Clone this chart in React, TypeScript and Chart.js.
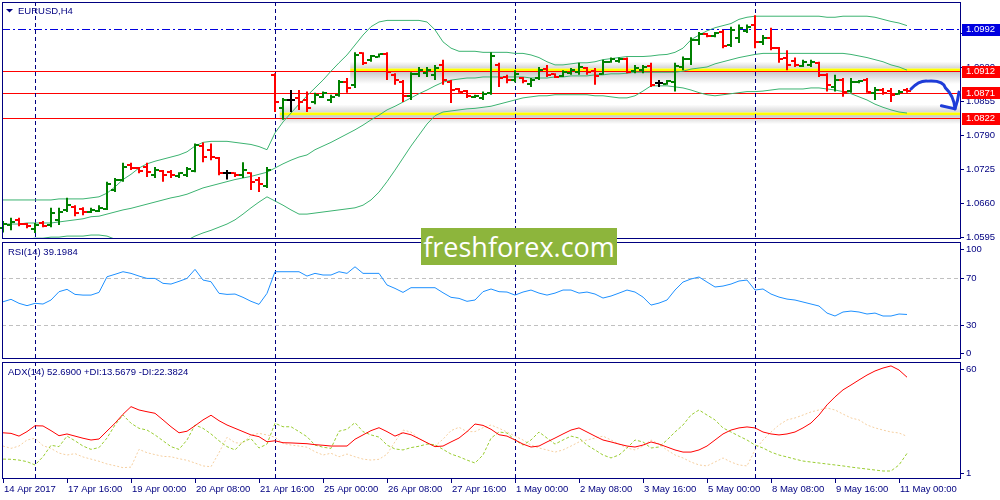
import React, { useEffect, useRef } from "react";
import { Chart, registerables } from "chart.js";

Chart.register(...registerables);

// ---------------- data (EURUSD H4) ----------------
const OPEN = [
  1.0612, 1.0618, 1.0628, 1.0620, 1.0610, 1.0622, 1.0618, 1.0628, 1.0647, 1.0652,
  1.0649, 1.0643, 1.0645, 1.0649, 1.0685, 1.0705, 1.0733, 1.0727, 1.0729, 1.0713,
  1.0721, 1.0719, 1.0711, 1.0713, 1.0721, 1.0769, 1.0762, 1.0746, 1.0717, 1.0717,
  1.0713, 1.0717, 1.0705, 1.0693, 1.0905, 1.0841, 1.0857, 1.0861, 1.0857, 1.0853,
  1.0863, 1.0857, 1.0867, 1.0891, 1.0886, 1.0946, 1.0934, 1.0940, 1.0944, 1.0905,
  1.0891, 1.0865, 1.0907, 1.0908, 1.0905, 1.0924, 1.0891, 1.0878, 1.0874, 1.0863,
  1.0861, 1.0871, 1.0924, 1.0901, 1.0895, 1.0899, 1.0887, 1.0899, 1.0916, 1.0907,
  1.0903, 1.0908, 1.0910, 1.0918, 1.0912, 1.0907, 1.0930, 1.0932, 1.0936, 1.0912,
  1.0914, 1.0922, 1.0889, 1.0887, 1.0891, 1.0920, 1.0936, 1.0972, 1.0983, 1.0979,
  1.0987, 1.0962, 1.0975, 1.0989, 1.1001, 1.0968, 1.0975, 1.0956, 1.0938, 1.0932,
  1.0922, 1.0924, 1.0928, 1.0905, 1.0882, 1.0895, 1.0874, 1.0891, 1.0895, 1.0871,
  1.0876, 1.0874, 1.0869, 1.0876,
];
const HIGH = [
  1.0626, 1.0632, 1.0632, 1.0622, 1.0622, 1.0626, 1.0651, 1.0651, 1.0670, 1.0656,
  1.0652, 1.0651, 1.0656, 1.0701, 1.0708, 1.0737, 1.0737, 1.0729, 1.0737, 1.0729,
  1.0723, 1.0723, 1.0719, 1.0729, 1.0774, 1.0776, 1.0774, 1.0748, 1.0723, 1.0719,
  1.0738, 1.0719, 1.0710, 1.0729, 1.0908, 1.0861, 1.0876, 1.0876, 1.0873, 1.0871,
  1.0873, 1.0867, 1.0895, 1.0899, 1.0948, 1.0948, 1.0943, 1.0946, 1.0948, 1.0908,
  1.0895, 1.0910, 1.0920, 1.0920, 1.0924, 1.0934, 1.0895, 1.0880, 1.0876, 1.0867,
  1.0873, 1.0948, 1.0928, 1.0905, 1.0914, 1.0901, 1.0899, 1.0920, 1.0924, 1.0908,
  1.0914, 1.0918, 1.0928, 1.0920, 1.0918, 1.0934, 1.0938, 1.0938, 1.0938, 1.0924,
  1.0924, 1.0928, 1.0895, 1.0895, 1.0928, 1.0940, 1.0977, 1.0987, 1.0985, 1.0987,
  1.0991, 1.0997, 1.1001, 1.1001, 1.1019, 1.0981, 1.0995, 1.0958, 1.0952, 1.0938,
  1.0934, 1.0934, 1.0930, 1.0908, 1.0905, 1.0899, 1.0899, 1.0895, 1.0899, 1.0882,
  1.0880, 1.0880, 1.0876, 1.0880,
];
const LOW = [
  1.0604, 1.0608, 1.0616, 1.0612, 1.0603, 1.0614, 1.0614, 1.0618, 1.0643, 1.0635,
  1.0637, 1.0641, 1.0643, 1.0647, 1.0681, 1.0701, 1.0723, 1.0717, 1.0710, 1.0708,
  1.0701, 1.0708, 1.0708, 1.0710, 1.0719, 1.0738, 1.0742, 1.0713, 1.0705, 1.0710,
  1.0708, 1.0685, 1.0681, 1.0689, 1.0834, 1.0819, 1.0834, 1.0838, 1.0834, 1.0849,
  1.0861, 1.0851, 1.0863, 1.0871, 1.0880, 1.0924, 1.0930, 1.0938, 1.0895, 1.0886,
  1.0853, 1.0857, 1.0901, 1.0901, 1.0895, 1.0886, 1.0851, 1.0871, 1.0861, 1.0861,
  1.0857, 1.0867, 1.0882, 1.0889, 1.0891, 1.0889, 1.0882, 1.0895, 1.0901, 1.0899,
  1.0901, 1.0905, 1.0905, 1.0905, 1.0886, 1.0905, 1.0928, 1.0928, 1.0908, 1.0908,
  1.0908, 1.0882, 1.0882, 1.0886, 1.0873, 1.0914, 1.0924, 1.0962, 1.0977, 1.0977,
  1.0956, 1.0958, 1.0966, 1.0985, 1.0956, 1.0962, 1.0952, 1.0928, 1.0914, 1.0920,
  1.0920, 1.0920, 1.0901, 1.0873, 1.0873, 1.0863, 1.0871, 1.0889, 1.0871, 1.0857,
  1.0867, 1.0853, 1.0867, 1.0871,
];
const CLOSE = [
  1.0620, 1.0624, 1.0620, 1.0616, 1.0618, 1.0616, 1.0641, 1.0643, 1.0656, 1.0641,
  1.0643, 1.0647, 1.0651, 1.0697, 1.0705, 1.0729, 1.0727, 1.0721, 1.0719, 1.0723,
  1.0713, 1.0713, 1.0717, 1.0725, 1.0771, 1.0748, 1.0748, 1.0717, 1.0717, 1.0713,
  1.0723, 1.0701, 1.0697, 1.0723, 1.0853, 1.0857, 1.0857, 1.0853, 1.0841, 1.0867,
  1.0871, 1.0863, 1.0891, 1.0880, 1.0943, 1.0928, 1.0941, 1.0944, 1.0910, 1.0895,
  1.0865, 1.0907, 1.0914, 1.0914, 1.0918, 1.0895, 1.0876, 1.0873, 1.0865, 1.0865,
  1.0869, 1.0941, 1.0899, 1.0895, 1.0907, 1.0893, 1.0895, 1.0914, 1.0905, 1.0901,
  1.0910, 1.0914, 1.0920, 1.0910, 1.0903, 1.0930, 1.0936, 1.0936, 1.0910, 1.0918,
  1.0920, 1.0886, 1.0889, 1.0893, 1.0922, 1.0936, 1.0972, 1.0983, 1.0979, 1.0985,
  1.0960, 1.0991, 1.0995, 1.0997, 1.0968, 1.0975, 1.0956, 1.0936, 1.0924, 1.0924,
  1.0930, 1.0930, 1.0905, 1.0886, 1.0895, 1.0873, 1.0891, 1.0893, 1.0873, 1.0876,
  1.0871, 1.0867, 1.0873, 1.0874,
];
const BB_UPPER = [
  1.0666, 1.0666, 1.0666, 1.0666, 1.0666, 1.0666, 1.0666, 1.0668, 1.0668, 1.0668,
  1.0668, 1.0670, 1.0672, 1.0679, 1.0691, 1.0705, 1.0715, 1.0727, 1.0735, 1.0740,
  1.0744, 1.0748, 1.0752, 1.0758, 1.0769, 1.0776, 1.0778, 1.0778, 1.0778, 1.0776,
  1.0774, 1.0772, 1.0768, 1.0762, 1.0794, 1.0815, 1.0832, 1.0849, 1.0865, 1.0880,
  1.0895, 1.0912, 1.0928, 1.0943, 1.0962, 1.0981, 1.0997, 1.1006, 1.1009, 1.1009,
  1.1009, 1.1009, 1.1009, 1.1006, 1.0991, 1.0968, 1.0956, 1.0950, 1.0950, 1.0950,
  1.0948, 1.0948, 1.0948, 1.0948, 1.0946, 1.0946, 1.0943, 1.0938, 1.0930, 1.0924,
  1.0924, 1.0926, 1.0928, 1.0928, 1.0930, 1.0934, 1.0936, 1.0938, 1.0940, 1.0940,
  1.0940, 1.0941, 1.0943, 1.0944, 1.0948, 1.0956, 1.0972, 1.0981, 1.0989, 1.0995,
  1.0999, 1.1003, 1.1011, 1.1015, 1.1017, 1.1017, 1.1017, 1.1017, 1.1017, 1.1017,
  1.1017, 1.1017, 1.1017, 1.1015, 1.1015, 1.1017, 1.1017, 1.1017, 1.1017, 1.1015,
  1.1011, 1.1007, 1.1004, 1.0999,
];
const BB_MIDDLE = [
  1.0620, 1.0620, 1.0620, 1.0622, 1.0622, 1.0622, 1.0622, 1.0624, 1.0626, 1.0628,
  1.0630, 1.0634, 1.0635, 1.0639, 1.0643, 1.0647, 1.0650, 1.0654, 1.0658, 1.0662,
  1.0666, 1.0670, 1.0673, 1.0677, 1.0683, 1.0689, 1.0693, 1.0697, 1.0701, 1.0705,
  1.0708, 1.0711, 1.0715, 1.0719, 1.0727, 1.0735, 1.0742, 1.0748, 1.0752, 1.0762,
  1.0769, 1.0776, 1.0784, 1.0792, 1.0800, 1.0809, 1.0819, 1.0828, 1.0838, 1.0845,
  1.0853, 1.0861, 1.0869, 1.0876, 1.0884, 1.0891, 1.0895, 1.0897, 1.0899, 1.0899,
  1.0901, 1.0901, 1.0901, 1.0901, 1.0901, 1.0901, 1.0899, 1.0899, 1.0899, 1.0901,
  1.0901, 1.0903, 1.0903, 1.0903, 1.0905, 1.0905, 1.0907, 1.0907, 1.0908, 1.0910,
  1.0910, 1.0910, 1.0910, 1.0910, 1.0910, 1.0912, 1.0916, 1.0918, 1.0920, 1.0926,
  1.0930, 1.0934, 1.0938, 1.0941, 1.0944, 1.0946, 1.0946, 1.0946, 1.0946, 1.0946,
  1.0946, 1.0946, 1.0946, 1.0946, 1.0946, 1.0946, 1.0944, 1.0941, 1.0938, 1.0934,
  1.0930, 1.0924, 1.0920, 1.0914,
];
const BB_LOWER = [
  1.0588, 1.0589, 1.0589, 1.0591, 1.0593, 1.0593, 1.0595, 1.0595, 1.0597, 1.0597,
  1.0597, 1.0599, 1.0599, 1.0597, 1.0591, 1.0586, 1.0580, 1.0576, 1.0574, 1.0574,
  1.0574, 1.0576, 1.0584, 1.0589, 1.0597, 1.0603, 1.0608, 1.0614, 1.0620, 1.0628,
  1.0639, 1.0651, 1.0662, 1.0672, 1.0664, 1.0656, 1.0647, 1.0639, 1.0639, 1.0641,
  1.0643, 1.0645, 1.0647, 1.0649, 1.0651, 1.0656, 1.0666, 1.0681, 1.0701, 1.0723,
  1.0746, 1.0769, 1.0790, 1.0811, 1.0827, 1.0834, 1.0836, 1.0838, 1.0840, 1.0841,
  1.0843, 1.0845, 1.0849, 1.0853, 1.0857, 1.0861, 1.0863, 1.0865, 1.0865, 1.0867,
  1.0867, 1.0867, 1.0867, 1.0867, 1.0865, 1.0865, 1.0863, 1.0861, 1.0861, 1.0865,
  1.0874, 1.0884, 1.0884, 1.0884, 1.0882, 1.0880, 1.0876, 1.0871, 1.0867, 1.0865,
  1.0867, 1.0869, 1.0871, 1.0873, 1.0873, 1.0874, 1.0876, 1.0878, 1.0878, 1.0878,
  1.0878, 1.0880, 1.0880, 1.0878, 1.0876, 1.0873, 1.0869, 1.0863, 1.0857, 1.0849,
  1.0843, 1.0838, 1.0834, 1.0832,
];
const RSI = [
  50.0, 52.1, 48.7, 46.7, 48.7, 48.1, 51.5, 58.6, 60.6, 56.3,
  55.7, 55.7, 58.0, 71.3, 73.4, 75.6, 74.2, 71.9, 69.9, 69.9,
  65.7, 65.1, 67.4, 69.9, 77.6, 68.5, 67.1, 57.2, 56.3, 56.6,
  53.8, 50.4, 47.8, 57.2, 75.6, 75.6, 75.6, 75.6, 71.9, 74.2,
  72.8, 72.8, 75.6, 74.2, 79.8, 74.2, 74.2, 74.2, 64.3, 61.4,
  58.0, 62.0, 62.0, 62.0, 62.0, 57.7, 53.8, 52.9, 50.4, 51.5,
  58.6, 60.9, 58.6, 58.3, 55.7, 58.3, 60.0, 57.4, 55.7, 57.4,
  60.0, 60.0, 57.4, 58.3, 56.6, 53.2, 54.9, 57.4, 60.0, 58.3,
  54.0, 47.2, 48.9, 51.5, 60.0, 66.8, 69.4, 71.1, 66.8, 62.6,
  63.4, 65.1, 67.7, 68.5, 60.0, 60.9, 56.6, 54.0, 52.3, 51.5,
  49.8, 48.1, 46.4, 40.4, 37.9, 41.3, 42.1, 41.3, 39.6, 40.4,
  37.9, 37.9, 39.6, 39.2,
];
const ADX = [
  24.2, 23.9, 22.5, 24.8, 27.8, 27.7, 25.3, 22.7, 23.6, 22.5,
  21.4, 20.5, 21.0, 25.1, 29.1, 33.7, 37.6, 35.9, 35.0, 34.2,
  30.8, 27.3, 24.2, 25.0, 27.8, 30.8, 33.2, 30.4, 28.2, 26.5,
  24.8, 23.1, 22.2, 19.6, 20.1, 19.1, 19.0, 18.8, 18.6, 18.1,
  17.8, 17.4, 17.4, 17.4, 20.9, 23.1, 25.3, 26.8, 24.8, 22.5,
  24.2, 23.2, 21.2, 19.1, 17.1, 17.4, 19.5, 21.5, 24.8, 28.7,
  28.0, 26.0, 23.2, 22.5, 20.5, 18.4, 16.9, 17.4, 19.5, 21.5,
  23.6, 25.6, 26.7, 24.6, 22.5, 20.5, 19.5, 18.4, 17.4, 16.9,
  17.9, 19.5, 18.4, 16.9, 15.4, 14.3, 14.3, 15.4, 17.4, 20.5,
  23.6, 25.6, 26.7, 27.2, 26.7, 24.6, 23.6, 23.1, 23.6, 24.6,
  26.7, 29.2, 33.3, 38.5, 42.6, 46.2, 48.7, 51.3, 53.8, 55.9,
  57.4, 58.5, 56.4, 52.7,
];
const PLUS_DI = [
  10.7, 10.6, 10.2, 9.4, 7.7, 11.9, 17.8, 17.1, 22.5, 20.1,
  17.4, 15.7, 16.6, 21.5, 28.2, 33.3, 29.1, 26.5, 25.6, 23.1,
  20.1, 17.1, 15.7, 20.5, 28.2, 26.5, 23.6, 20.1, 17.1, 15.4,
  19.6, 21.2, 16.4, 18.4, 29.1, 27.3, 27.3, 24.8, 22.2, 17.9,
  16.8, 16.2, 25.0, 26.0, 29.4, 24.8, 23.1, 22.0, 17.9, 15.9,
  15.4, 16.6, 17.3, 18.4, 18.1, 15.7, 13.3, 11.9, 10.2, 8.7,
  12.8, 21.4, 24.6, 24.1, 20.5, 17.9, 20.5, 24.6, 21.5, 18.4,
  20.5, 22.5, 21.5, 17.9, 15.4, 12.8, 11.3, 12.8, 16.4, 20.5,
  19.5, 16.4, 16.9, 20.5, 24.6, 28.2, 33.3, 35.9, 33.3, 30.8,
  26.7, 24.6, 22.5, 20.5, 17.9, 16.4, 14.3, 12.8, 11.8, 10.7,
  9.7, 9.2, 8.7, 8.2, 7.7, 7.2, 6.6, 6.1, 5.6, 5.1,
  4.6, 4.6, 7.7, 13.6,
];
const MINUS_DI = [
  17.4, 16.2, 17.4, 20.5, 21.4, 17.6, 16.2, 13.8, 12.8, 13.5,
  11.8, 10.7, 9.6, 8.2, 7.3, 6.3, 6.6, 15.7, 14.0, 13.0,
  12.1, 11.9, 10.9, 10.1, 8.7, 7.2, 6.8, 14.0, 21.9, 19.1,
  18.8, 23.1, 23.9, 23.1, 21.9, 18.8, 17.9, 17.4, 16.8, 14.5,
  12.8, 13.7, 11.9, 13.3, 11.9, 10.7, 10.2, 10.6, 13.2, 19.6,
  25.6, 24.6, 21.2, 19.0, 17.4, 20.9, 25.3, 27.0, 24.8, 24.8,
  26.8, 28.2, 26.5, 24.6, 22.5, 20.5, 17.9, 16.4, 15.4, 14.3,
  15.4, 17.4, 19.5, 20.5, 21.5, 22.5, 20.5, 18.4, 16.4, 15.4,
  17.4, 20.5, 18.4, 15.4, 12.8, 11.3, 9.2, 7.7, 7.2, 9.2,
  11.3, 9.2, 7.7, 7.2, 15.4, 20.5, 24.6, 28.2, 30.8, 31.8,
  33.3, 34.9, 35.9, 36.9, 35.9, 33.8, 31.8, 30.8, 28.2, 26.7,
  25.6, 24.6, 24.1, 22.4,
];

const TIME_TICK_INDEX = [0, 8, 16, 24, 32, 40, 48, 56, 64, 72, 80, 88, 96, 104, 112];
const TIME_TICK_LABELS = [
  "14 Apr 2017", "17 Apr 16:00", "19 Apr 00:00", "20 Apr 08:00", "21 Apr 16:00",
  "25 Apr 00:00", "26 Apr 08:00", "27 Apr 16:00", "1 May 00:00", "2 May 08:00",
  "3 May 16:00", "5 May 00:00", "8 May 08:00", "9 May 16:00", "11 May 00:00",
];
const WEEK_SEPARATORS = [4, 34, 64, 94];
const PRICE_TICKS = [1.0595, 1.066, 1.0725, 1.079, 1.0855, 1.092, 1.0985];
const RSI_TICKS = [100, 70, 30, 0];
const RSI_LEVELS = [70, 30];
const ADX_TICKS = [60, 1];
const LEVEL_PRICES = [1.0992, 1.0912, 1.0871, 1.0822];
const LEVEL_COLORS = ["#0000E0", "#FF0000", "#FF0000", "#FF0000"];
const ZONE_START = [43.4, 34.6];
const ZONE_LOW = [1.0912, 1.0828];
const ZONE_HIGH = [1.0917, 1.0833];
const ARROW_INDEX = [113.5, 115.6, 117.8, 119.0];
const ARROW_PRICE = [1.0878, 1.0893, 1.0880, 1.0840];
const ARROW_HEAD_INDEX = [117.3, 119.0, 119.5];
const ARROW_HEAD_PRICE = [1.0846, 1.0840, 1.0872];

const TITLE = "EURUSD,H4";
const RSI_TITLE = "RSI(14) 39.1984";
const ADX_TITLE = "ADX(14) 52.6900 +DI:13.5679 -DI:22.3824";

// ---------------- styling ----------------
const NAVY = "#000080";
const FONT = '9.5px "Liberation Sans", Arial, sans-serif';
const X_MIN = -0.125;
const X_MAX = 119.625;
const GREEN = "#008000";

const idx = OPEN.map((_, i) => i);
const pts = (arr: number[]) => arr.map((v, i) => ({ x: idx[i], y: v }));

function barColor(i: number) {
  if (CLOSE[i] > OPEN[i]) return GREEN;
  if (CLOSE[i] < OPEN[i]) return "#FF0000";
  return "#000000";
}

function drawFrame(ctx: CanvasRenderingContext2D, a: any) {
  ctx.save();
  ctx.strokeStyle = NAVY;
  ctx.lineWidth = 1;
  ctx.setLineDash([]);
  ctx.strokeRect(a.left + 0.5, a.top + 0.5, a.right - a.left, a.bottom - a.top - 1);
  ctx.restore();
}

function drawSeparators(chart: any) {
  const { ctx, chartArea: a, scales } = chart;
  ctx.save();
  ctx.strokeStyle = NAVY;
  ctx.lineWidth = 1;
  ctx.setLineDash([4, 3]);
  for (const s of WEEK_SEPARATORS) {
    const px = Math.round(scales.x.getPixelForValue(s)) + 0.5;
    ctx.beginPath();
    ctx.moveTo(px, a.top);
    ctx.lineTo(px, a.bottom);
    ctx.stroke();
  }
  ctx.restore();
}

function drawRightLabels(chart: any, values: number[], fmt: (v: number) => string, clamp: boolean) {
  const { ctx, chartArea: a, scales } = chart;
  ctx.save();
  ctx.font = FONT;
  ctx.fillStyle = NAVY;
  ctx.textAlign = "left";
  ctx.textBaseline = "middle";
  for (const v of values) {
    let py = scales.y.getPixelForValue(v);
    if (clamp) py = Math.min(Math.max(py, a.top + 7), a.bottom - 6);
    ctx.fillRect(a.right + 1, Math.round(py), 3, 1);
    ctx.fillText(fmt(v), a.right + 6, py + 0.5);
  }
  ctx.restore();
}

function drawTitle(ctx: CanvasRenderingContext2D, text: string, x: number, y: number) {
  ctx.save();
  ctx.font = FONT;
  ctx.fillStyle = NAVY;
  ctx.textAlign = "left";
  ctx.textBaseline = "middle";
  ctx.fillText(text, x, y);
  ctx.restore();
}

const pricePlugin = {
  id: "pricePanel",
  beforeDatasetsDraw(chart: any) {
    const { ctx, chartArea: a, scales } = chart;
    const { x, y } = scales;
    ctx.save();
    // highlighted zones with soft shadow
    const shadowUp = [7, 8];
    const shadowDown = [13, 9];
    for (let k = 0; k < ZONE_START.length; k++) {
      const x0 = x.getPixelForValue(ZONE_START[k]);
      const w = a.right - x0;
      const yt = y.getPixelForValue(ZONE_HIGH[k]);
      const yb = y.getPixelForValue(ZONE_LOW[k]);
      let g = ctx.createLinearGradient(0, yt - shadowUp[k], 0, yt);
      g.addColorStop(0, "rgba(160,160,160,0)");
      g.addColorStop(1, "rgba(160,160,160,0.45)");
      ctx.fillStyle = g;
      ctx.fillRect(x0, yt - shadowUp[k], w, shadowUp[k]);
      g = ctx.createLinearGradient(0, yb, 0, yb + shadowDown[k]);
      g.addColorStop(0, "rgba(150,150,150,0.55)");
      g.addColorStop(1, "rgba(160,160,160,0)");
      ctx.fillStyle = g;
      ctx.fillRect(x0, yb, w, shadowDown[k]);
      ctx.fillStyle = "#FFFF00";
      ctx.fillRect(x0, yt, w, yb - yt);
    }
    // horizontal levels
    for (let k = 0; k < LEVEL_PRICES.length; k++) {
      const py = Math.round(y.getPixelForValue(LEVEL_PRICES[k])) + 0.5;
      ctx.strokeStyle = LEVEL_COLORS[k];
      ctx.lineWidth = 1;
      ctx.setLineDash(k === 0 ? [8, 3, 2, 3] : []);
      ctx.beginPath();
      ctx.moveTo(a.left, py);
      ctx.lineTo(a.right, py);
      ctx.stroke();
    }
    ctx.restore();
    drawSeparators(chart);
  },
  afterDatasetsDraw(chart: any) {
    const { ctx, scales } = chart;
    const meta = chart.getDatasetMeta(0);
    ctx.save();
    meta.data.forEach((el: any, i: number) => {
      const cx = Math.round(el.x);
      const yo = Math.round(scales.y.getPixelForValue(OPEN[i]));
      const yc = Math.round(scales.y.getPixelForValue(CLOSE[i]));
      ctx.fillStyle = barColor(i);
      ctx.fillRect(cx - 4, yo - 1, 3, 2);
      ctx.fillRect(cx + 1, yc - 1, 3, 2);
    });
    ctx.restore();
  },
  afterDraw(chart: any) {
    const { ctx, chartArea: a, scales } = chart;
    const { x, y } = scales;
    drawFrame(ctx, a);
    drawRightLabels(chart, PRICE_TICKS, (v) => v.toFixed(4), false);
    // level price boxes
    ctx.save();
    ctx.font = FONT;
    ctx.textAlign = "left";
    ctx.textBaseline = "middle";
    for (let k = 0; k < LEVEL_PRICES.length; k++) {
      const py = y.getPixelForValue(LEVEL_PRICES[k]);
      ctx.fillStyle = LEVEL_COLORS[k];
      ctx.fillRect(a.right + 2, Math.round(py - 5.5), 38, 12);
      ctx.fillStyle = "#FFFFFF";
      ctx.fillText(LEVEL_PRICES[k].toFixed(4), a.right + 6, py + 0.5);
    }
    ctx.restore();
    // hand drawn arrow
    ctx.save();
    ctx.strokeStyle = "#1E3CD8";
    ctx.lineWidth = 3;
    ctx.lineCap = "round";
    ctx.lineJoin = "round";
    const P = ARROW_INDEX.map((v, i) => [x.getPixelForValue(v), y.getPixelForValue(ARROW_PRICE[i])]);
    ctx.beginPath();
    ctx.moveTo(P[0][0], P[0][1]);
    ctx.quadraticCurveTo((P[0][0] + P[1][0]) / 2, P[1][1] - 1, P[1][0], P[1][1]);
    ctx.quadraticCurveTo(P[2][0] - 2, P[1][1] - 1, P[2][0], P[2][1]);
    ctx.quadraticCurveTo(P[3][0] - 1, P[2][1] + 8, P[3][0], P[3][1]);
    ctx.stroke();
    const H = ARROW_HEAD_INDEX.map((v, i) => [x.getPixelForValue(v), y.getPixelForValue(ARROW_HEAD_PRICE[i])]);
    ctx.beginPath();
    ctx.moveTo(H[0][0], H[0][1]);
    ctx.lineTo(H[1][0], H[1][1]);
    ctx.quadraticCurveTo(H[2][0] - 1, H[2][1] + 8, H[2][0], H[2][1]);
    ctx.stroke();
    ctx.restore();
    // title
    ctx.save();
    ctx.fillStyle = NAVY;
    ctx.beginPath();
    ctx.moveTo(6, 9);
    ctx.lineTo(13, 9);
    ctx.lineTo(9.5, 12.5);
    ctx.closePath();
    ctx.fill();
    ctx.restore();
    drawTitle(ctx, TITLE, 18, 11.5);
  },
};

const rsiPlugin = {
  id: "rsiPanel",
  beforeDatasetsDraw(chart: any) {
    const { ctx, chartArea: a, scales } = chart;
    ctx.save();
    ctx.strokeStyle = "#C0C0C0";
    ctx.lineWidth = 1;
    ctx.setLineDash([4, 3]);
    for (const lv of RSI_LEVELS) {
      const py = Math.round(scales.y.getPixelForValue(lv)) + 0.5;
      ctx.beginPath();
      ctx.moveTo(a.left, py);
      ctx.lineTo(a.right, py);
      ctx.stroke();
    }
    ctx.restore();
    drawSeparators(chart);
  },
  afterDraw(chart: any) {
    const { ctx, chartArea: a } = chart;
    drawFrame(ctx, a);
    drawRightLabels(chart, RSI_TICKS, (v) => String(v), true);
    drawTitle(ctx, RSI_TITLE, 8, 12);
  },
};

const adxPlugin = {
  id: "adxPanel",
  beforeDatasetsDraw(chart: any) {
    drawSeparators(chart);
  },
  afterDraw(chart: any) {
    const { ctx, chartArea: a, scales } = chart;
    drawFrame(ctx, a);
    drawRightLabels(chart, ADX_TICKS, (v) => String(v), true);
    drawTitle(ctx, ADX_TITLE, 8, 12);
    ctx.save();
    ctx.font = FONT;
    ctx.fillStyle = NAVY;
    ctx.textAlign = "left";
    ctx.textBaseline = "middle";
    TIME_TICK_INDEX.forEach((ti, k) => {
      const px = Math.round(scales.x.getPixelForValue(ti));
      ctx.fillRect(px, a.bottom, 1, 4);
      ctx.fillText(TIME_TICK_LABELS[k], px + 1, a.bottom + 10);
    });
    ctx.restore();
  },
};

function baseOptions(yMin: number, yMax: number, padding: any) {
  return {
    animation: false as const,
    responsive: false,
    devicePixelRatio: 1,
    events: [] as any[],
    layout: { padding },
    plugins: { legend: { display: false }, tooltip: { enabled: false } },
    scales: {
      x: { type: "linear" as const, min: X_MIN, max: X_MAX, display: false, offset: false },
      y: { type: "linear" as const, min: yMin, max: yMax, display: false },
    },
  };
}

function lineDs(data: number[], color: string, dash: number[] = []) {
  return {
    type: "line" as const,
    data: pts(data),
    borderColor: color,
    borderWidth: 1,
    borderDash: dash,
    pointRadius: 0,
    tension: 0,
    fill: false,
  };
}

export default function App() {
  const priceRef = useRef<HTMLCanvasElement>(null);
  const rsiRef = useRef<HTMLCanvasElement>(null);
  const adxRef = useRef<HTMLCanvasElement>(null);

  useEffect(() => {
    const charts: Chart[] = [];
    const bbColor = "#3CB371";
    charts.push(
      new Chart(priceRef.current as HTMLCanvasElement, {
        type: "line",
        data: {
          datasets: [
            {
              type: "bar" as const,
              data: idx.map((i) => ({ x: i, y: [LOW[i], HIGH[i]] })) as any,
              backgroundColor: idx.map((i) => barColor(i)),
              barThickness: 2,
              borderWidth: 0,
              inflateAmount: 0,
              borderSkipped: false,
              grouped: false,
            } as any,
            lineDs(BB_UPPER, bbColor),
            lineDs(BB_MIDDLE, bbColor),
            lineDs(BB_LOWER, bbColor),
          ],
        },
        options: baseOptions(1.059143, 1.104415, { left: 2, right: 40, top: 2, bottom: 1 }) as any,
        plugins: [pricePlugin],
      })
    );
    charts.push(
      new Chart(rsiRef.current as HTMLCanvasElement, {
        type: "line",
        data: { datasets: [lineDs(RSI, "#1E90FF")] },
        options: baseOptions(1.3, 100.9, { left: 2, right: 40, top: 2, bottom: 1 }) as any,
        plugins: [rsiPlugin],
      })
    );
    charts.push(
      new Chart(adxRef.current as HTMLCanvasElement, {
        type: "line",
        data: {
          datasets: [
            lineDs(ADX, "#FF0000"),
            lineDs(PLUS_DI, "#9ACD32", [3, 2]),
            lineDs(MINUS_DI, "#F5CFA0", [2, 2]),
          ],
        },
        options: baseOptions(0.5, 60.5, { left: 2, right: 40, top: 2, bottom: 21 }) as any,
        plugins: [adxPlugin],
      })
    );
    return () => charts.forEach((c) => c.destroy());
  }, []);

  return (
    <div style={{ position: "absolute", left: 0, top: 0, width: 1000, height: 500, background: "#FFFFFF", overflow: "hidden" }}>
      <canvas ref={priceRef} width={1000} height={240} style={{ position: "absolute", left: 0, top: 0 }} />
      <canvas ref={rsiRef} width={1000} height={120} style={{ position: "absolute", left: 0, top: 240 }} />
      <canvas ref={adxRef} width={1000} height={140} style={{ position: "absolute", left: 0, top: 360 }} />
      <div
        style={{
          position: "absolute",
          left: 421,
          top: 228,
          width: 196,
          height: 37,
          background: "#8DB53C",
          color: "#FFFFFF",
          fontFamily: '"Open Sans", sans-serif',
          fontSize: 27,
          lineHeight: "37px",
          textAlign: "center",
          whiteSpace: "nowrap",
        }}
      >
        freshforex.com
      </div>
    </div>
  );
}
